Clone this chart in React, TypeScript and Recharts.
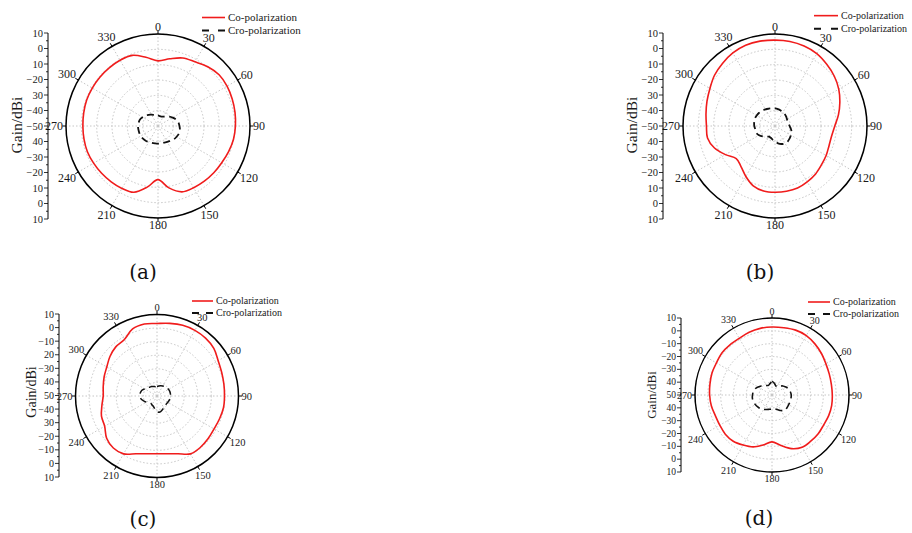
import React from 'react';
import {
  RadarChart,
  PolarGrid,
  PolarAngleAxis,
  PolarRadiusAxis,
  Radar,
  Legend,
  LineChart,
  Line,
  YAxis,
} from 'recharts';

const FONT = '"Liberation Serif", "Times New Roman", serif';

// angle categories (deg, clockwise from top)
const ANGLES = [
  0, 10, 20, 30, 40, 50, 60, 70, 80, 90, 100, 110, 120, 130, 140, 150, 160, 170,
  180, 190, 200, 210, 220, 230, 240, 250, 260, 270, 280, 290, 300, 310, 320, 330, 340, 350,
];

// gain values (dBi), one per angle
const coA = [
  -7.5, -5.5, -2.8, -1.7, 0.5, 2, 2, 1.5, 1, 0.5, 0, -1, -2, -2.5, -3, -3.5, -4.3, -9,
  -15, -9.5, -4, -3, -2.5, -2, -1.5, -1, -1, -1, -0.8, -0.5, -0.5, -0.5, -0.5, -0.5, -1, -4.5,
];
const croA = [
  -43, -43.5, -43.5, -43, -42, -40.5, -39, -37.5, -36.5, -36, -35.5, -35.5, -36, -36.5, -37.5, -38, -38.5, -38.5,
  -38.5, -38.5, -38.3, -38, -37.5, -37.2, -37, -37, -37, -37, -37.2, -37.5, -38.5, -39.5, -40.5, -41.5, -42.3, -42.8,
];

const coB = [
  6, 6, 5.5, 4.5, 2.5, 0.5, -2, -5, -8, -11, -12.5, -12.5, -11.5, -10.5, -9, -8, -7, -6.8,
  -6.8, -7, -8.5, -12, -15.5, -17, -12.7, -8, -5.3, -5.3, -4.3, -2.8, -1, 1.5, 3.3, 5, 6, 6.2,
];
const croB = [
  -38.5, -38.8, -39.2, -39.6, -40, -40.5, -41, -41.3, -41, -40.5, -39.5, -38.5, -38, -37.5, -37, -37, -37.5, -38.5,
  -40, -41, -41.8, -42, -41, -39.5, -38, -37, -37, -36.5, -36.2, -36, -36.2, -36.5, -37, -37.5, -38, -38.3,
];

const coC = [
  3.4, 4.3, 5.4, 5.8, 5.6, 4.6, 2, 0.7, 0, -0.3, -0.3, -1, -1.5, -1, -0.5, -0.8, -4.7, -6.8,
  -7.5, -6.8, -4.7, -0.8, 0, -1.6, -5.5, -6.5, -8.8, -10.4, -9.8, -8.6, -7.3, -4.8, -2.8, -2, 2.5, 3.8,
];
const croC = [
  -43, -42.5, -42, -41.5, -41, -40.5, -40.2, -40, -40, -40, -40.2, -40.5, -40.8, -41, -40.5, -40, -39, -38,
  -38.5, -40.5, -42, -42.5, -43, -42.5, -41, -39.5, -38, -37.5, -37.5, -38, -39.5, -40.5, -41.5, -42, -42.5, -43,
];

const coD = [
  3, 3.2, 3.8, 3.5, 2, 0.3, -1.5, -2.5, -3, -3, -2.8, -3, -3.5, -3, -3, -3, -5.5, -10,
  -13.5, -10.5, -7, -5, -3, -2.5, -3, -3, -2, -1.4, -0.9, -0.2, 0, 1, 1, 1, 2, 2.7,
];
const croD = [
  -39.5, -40.5, -42, -42.5, -41, -39, -37.5, -36.2, -35.5, -35, -35, -35, -35, -34.7, -34.5, -36, -38, -39,
  -39, -38.7, -38, -37, -36, -35.5, -35, -34.7, -34.5, -34.8, -35.2, -36, -37.5, -39, -40.5, -41.5, -42, -41,
];

// left-hand gain scale labels, top to bottom, as printed
const axisLabelsAB = ['10', '0', '10', '\u221220', '30', '\u221240', '\u221250', '40', '\u221230', '\u221220', '10', '0', '10'];
const axisLabelsC = ['10', '0', '\u221210', '20', '\u221230', '40', '50', '\u221240', '30', '\u221220', '\u221210', '0', '10'];
const axisLabelsD = ['10', '0', '\u221210', '\u221220', '\u221230', '40', '50', '40', '\u221230', '\u221220', '\u221210', '0', '10'];

const captions = ['(a)', '(b)', '(c)', '(d)'];

const SPOKES = [90, 60, 30, 0, -30, -60, -90, -120, -150, -180, -210, -240];

const buildRows = (co: number[], cro: number[]) =>
  ANGLES.map((a, i) => ({ angle: a, co: co[i], cro: cro[i] }));

function smoothPath(pts: { x: number; y: number }[]) {
  const n = pts.length;
  if (!n) return '';
  let d = `M${pts[0].x},${pts[0].y}`;
  for (let i = 0; i < n; i++) {
    const p0 = pts[(i - 1 + n) % n];
    const p1 = pts[i];
    const p2 = pts[(i + 1) % n];
    const p3 = pts[(i + 2) % n];
    const c1x = p1.x + (p2.x - p0.x) / 6;
    const c1y = p1.y + (p2.y - p0.y) / 6;
    const c2x = p2.x - (p3.x - p1.x) / 6;
    const c2y = p2.y - (p3.y - p1.y) / 6;
    d += ` C${c1x},${c1y} ${c2x},${c2y} ${p2.x},${p2.y}`;
  }
  return d + 'Z';
}

const smoothShape = (props: any) => (
  <path
    d={smoothPath(props.points || [])}
    fill="none"
    stroke={props.stroke}
    strokeWidth={props.strokeWidth}
    strokeDasharray={props.strokeDasharray}
  />
);

const angleTick = (cx: number, cy: number, r: number, fs: number) => (props: any) => {
  const deg = Number(props.payload?.value);
  if (deg % 30 !== 0) return <g />;
  const rad = (deg * Math.PI) / 180;
  const sx = Math.sin(rad);
  const sy = -Math.cos(rad);
  const label = String(deg);
  const w = label.length * fs * 0.5;
  const h = fs * 0.72;
  const dist = r + 3 + (Math.abs(sx) * w) / 2 + (Math.abs(sy) * h) / 2;
  return (
    <g>
      <line x1={cx + sx * r} y1={cy + sy * r} x2={cx + sx * (r + 3.5)} y2={cy + sy * (r + 3.5)} stroke="#000" strokeWidth={1} />
      <text
        x={cx + sx * dist}
        y={cy + sy * dist}
        textAnchor="middle"
        dominantBaseline="central"
        fontSize={fs}
        style={{ fontFamily: FONT }}
        fill="#1a1a1a"
      >
        {label}
      </text>
    </g>
  );
};

const legendContent = (fs: number, rowH: number, lineW: number) => (props: any) => {
  const items = props.payload || [];
  return (
    <div style={{ fontFamily: FONT, fontSize: fs, color: '#1a1a1a', whiteSpace: 'nowrap' }}>
      {items.map((it: any, i: number) => {
        const dashed = !!(it.payload && it.payload.strokeDasharray);
        return (
          <div key={i} style={{ display: 'flex', alignItems: 'center', height: rowH, lineHeight: `${rowH}px` }}>
            <svg width={lineW} height={rowH} style={{ marginRight: 3 }}>
              <line
                x1={0}
                x2={lineW}
                y1={rowH / 2}
                y2={rowH / 2}
                stroke={it.color}
                strokeWidth={dashed ? 2 : 1.6}
                strokeDasharray={dashed ? `7 ${lineW - 14}` : undefined}
              />
            </svg>
            <span>{it.value}</span>
          </div>
        );
      })}
    </div>
  );
};

function GainAxis({ x, top, bottom, labels, fs }: { x: number; top: number; bottom: number; labels: string[]; fs: number }) {
  const W = 44;
  const pad = 8;
  const data = labels.map((_, i) => ({ i }));
  const ticks: number[] = [];
  for (let k = 0; k <= 2 * (labels.length - 1); k++) ticks.push(k / 2);
  const Tick = (p: any) => {
    const v = p.payload.value;
    const y = p.payload.coordinate ?? p.y;
    const major = Number.isInteger(v);
    return (
      <g>
        <line x1={W - (major ? 4 : 2)} x2={W} y1={y} y2={y} stroke="#000" strokeWidth={0.8} />
        {major && (
          <text x={W - 5} y={y} textAnchor="end" dominantBaseline="central" fontSize={fs} style={{ fontFamily: FONT }} fill="#1a1a1a">
            {labels[v]}
          </text>
        )}
      </g>
    );
  };
  return (
    <div style={{ position: 'absolute', left: x - W, top: top - pad }}>
      <LineChart width={W + 2} height={bottom - top + 2 * pad} data={data} margin={{ top: pad, bottom: pad, left: 0, right: 2 }}>
        <YAxis
          type="number"
          domain={[0, labels.length - 1]}
          ticks={ticks}
          interval={0}
          reversed
          width={W}
          stroke="#000"
          tickLine={false}
          tick={Tick}
        />
        <Line dataKey="i" stroke="none" dot={false} isAnimationActive={false} />
      </LineChart>
    </div>
  );
}

type Cfg = {
  left: number; top: number; w: number; h: number;
  cx: number; cy: number; r: number; fs: number;
  lx: number; ly: number; lfs: number; rowH: number; lineW: number;
  ax: number; aTop: number; aBottom: number; afs: number;
  gx: number; gy: number; gfs: number;
  capX: number; capY: number;
  dashW: number;
};

const cfgA: Cfg = {
  left: 0, top: 0, w: 320, h: 250, cx: 158, cy: 126, r: 92, fs: 12,
  lx: 202, ly: 11, lfs: 11, rowH: 13, lineW: 23,
  ax: 48, aTop: 33, aBottom: 219, afs: 10.5,
  gx: 17, gy: 125, gfs: 15.5, capX: 143, capY: 272, dashW: 1.8,
};
const cfgB: Cfg = {
  left: 600, top: 0, w: 312, h: 250, cx: 175, cy: 126, r: 92, fs: 12,
  lx: 214, ly: 9, lfs: 10, rowH: 13.3, lineW: 24,
  ax: 63, aTop: 33, aBottom: 219, afs: 10.5,
  gx: 32, gy: 125, gfs: 15.5, capX: 160, capY: 272, dashW: 1.8,
};
const cfgC: Cfg = {
  left: 0, top: 285, w: 300, h: 240, cx: 157, cy: 111, r: 81.5, fs: 10.5,
  lx: 192, ly: 10, lfs: 10, rowH: 12, lineW: 21,
  ax: 59, aTop: 314, aBottom: 477, afs: 10,
  gx: 32, gy: 392, gfs: 14, capX: 143, capY: 519, dashW: 1.5,
};
const cfgD: Cfg = {
  left: 600, top: 285, w: 312, h: 240, cx: 172, cy: 110, r: 77, fs: 10,
  lx: 208, ly: 11, lfs: 10, rowH: 12, lineW: 22,
  ax: 81, aTop: 318, aBottom: 472, afs: 9.5,
  gx: 52, gy: 395, gfs: 13, capX: 159, capY: 518, dashW: 1.6,
};

function Panel({ cfg, co, cro }: { cfg: Cfg; co: number[]; cro: number[] }) {
  const rows = buildRows(co, cro);
  return (
    <div style={{ position: 'absolute', left: cfg.left, top: cfg.top, width: cfg.w, height: cfg.h }}>
      <RadarChart
        width={cfg.w}
        height={cfg.h}
        data={rows}
        cx={cfg.cx}
        cy={cfg.cy}
        outerRadius={cfg.r}
        startAngle={90}
        endAngle={-270}
        margin={{ top: 0, right: 0, bottom: 0, left: 0 }}
      >
        <PolarGrid gridType="circle" polarAngles={SPOKES} stroke="#c6c6c6" strokeDasharray="1.5 2" />
        <PolarRadiusAxis type="number" domain={[-50, 10]} tickCount={7} tick={false} axisLine={false} />
        <PolarAngleAxis
          dataKey="angle"
          type="category"
          axisLineType="circle"
          stroke="#000"
          axisLine={{ stroke: '#000', strokeWidth: 1.5 }}
          tickLine={false}
          tick={angleTick(cfg.cx, cfg.cy, cfg.r, cfg.fs)}
        />
        <Radar
          name="Co-polarization"
          dataKey="co"
          stroke="#f01c1c"
          strokeWidth={1.6}
          fill="none"
          fillOpacity={0}
          dot={false}
          isAnimationActive={false}
          shape={smoothShape}
        />
        <Radar
          name="Cro-polarization"
          dataKey="cro"
          stroke="#111"
          strokeWidth={cfg.dashW}
          strokeDasharray="7 4.5"
          fill="none"
          fillOpacity={0}
          dot={false}
          isAnimationActive={false}
          shape={smoothShape}
        />
        <Legend
          layout="vertical"
          align="right"
          verticalAlign="top"
          wrapperStyle={{ left: cfg.lx, top: cfg.ly, right: 'auto', bottom: 'auto', width: 'auto' }}
          content={legendContent(cfg.lfs, cfg.rowH, cfg.lineW)}
        />
      </RadarChart>
    </div>
  );
}

function Extras({ cfg, labels, caption }: { cfg: Cfg; labels: string[]; caption: string }) {
  return (
    <>
      <GainAxis x={cfg.left + cfg.ax} top={cfg.aTop} bottom={cfg.aBottom} labels={labels} fs={cfg.afs} />
      <div
        style={{
          position: 'absolute',
          left: cfg.left + cfg.gx,
          top: cfg.gy,
          transform: 'translate(-50%, -50%) rotate(-90deg)',
          fontFamily: FONT,
          fontSize: cfg.gfs,
          color: '#1a1a1a',
          whiteSpace: 'nowrap',
        }}
      >
        Gain/dBi
      </div>
      <div
        style={{
          position: 'absolute',
          left: cfg.left + cfg.capX,
          top: cfg.capY,
          transform: 'translate(-50%, -50%)',
          fontFamily: '"DejaVu Serif", serif',
          fontSize: 20,
          color: '#111',
          whiteSpace: 'nowrap',
        }}
      >
        {caption}
      </div>
    </>
  );
}

export default function App() {
  return (
    <div
      style={{
        position: 'absolute',
        left: 0,
        top: 0,
        width: 912,
        height: 533,
        overflow: 'hidden',
        background: '#fff',
      }}
    >
      <Panel cfg={cfgA} co={coA} cro={croA} />
      <Panel cfg={cfgB} co={coB} cro={croB} />
      <Panel cfg={cfgC} co={coC} cro={croC} />
      <Panel cfg={cfgD} co={coD} cro={croD} />
      <Extras cfg={cfgA} labels={axisLabelsAB} caption={captions[0]} />
      <Extras cfg={cfgB} labels={axisLabelsAB} caption={captions[1]} />
      <Extras cfg={cfgC} labels={axisLabelsC} caption={captions[2]} />
      <Extras cfg={cfgD} labels={axisLabelsD} caption={captions[3]} />
    </div>
  );
}
